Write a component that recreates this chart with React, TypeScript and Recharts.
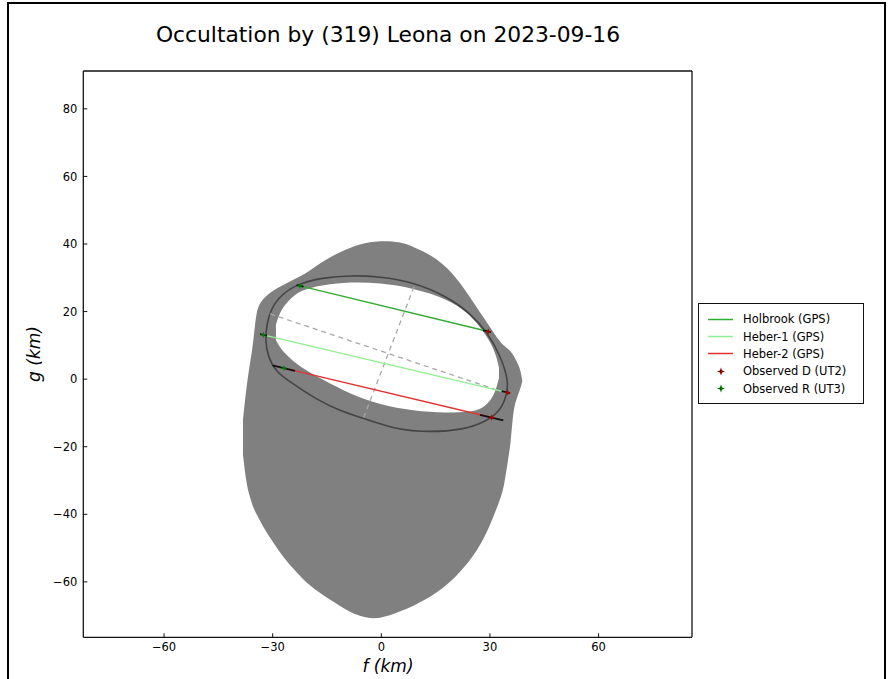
import React from "react";
import { ComposedChart, Area, Line, Scatter, XAxis, YAxis } from "recharts";

const xTicks = [-60, -30, 0, 30, 60];
const yTicks = [-60, -40, -20, 0, 20, 40, 60, 80];
const xDomain = [-82.3, 85.8];
const yDomain = [-76.4, 91.2];

// shape model shadow: upper and lower edge at each f
const blobF = [-38.2, -37.4, -36.5, -35.4, -34.6, -33.5, -30.7, -27.1, -23.3, -20.5, -16.9, -11.4, -5.9, -0.4, 5.2, 8.8, 15.4, 20.9, 25.3, 29.2, 32.8, 33.9, 35.3, 35.8, 36.4, 37.2, 38.3, 38.9];
const blobTop = [-12.0, -3.8, 3.3, 10.2, 19.6, 22.9, 25.8, 27.9, 30.0, 31.5, 34.4, 37.7, 40.1, 41.0, 40.7, 39.2, 35.9, 30.0, 22.9, 16.7, 11.0, 9.9, 8.7, 8.1, 7.2, 5.7, 3.3, -0.2];
const blobBottom = [-22.4, -29.9, -34.3, -37.9, -39.7, -42.0, -47.1, -52.7, -57.3, -60.4, -63.4, -67.2, -70.5, -71.1, -68.7, -67.2, -63.4, -58.2, -52.7, -45.6, -35.7, -31.9, -21.8, -18.0, -9.7, -6.1, -3.2, -0.8];

// white inner region
const innerF = [-29.1, -28.0, -26.0, -22.5, -16.1, -8.6, -0.4, 8.8, 18.1, 23.7, 27.3, 30.0, 31.7, 32.5];
const innerTop = [16.1, 19.9, 22.9, 26.4, 27.9, 28.8, 28.5, 27.0, 23.8, 19.9, 15.5, 11.3, 7.2, 3.3];
const innerBottom = [11.6, 9.3, 6.9, 3.6, -0.2, -4.4, -7.6, -9.4, -10.0, -9.7, -9.1, -6.7, -3.2, 0.4];

// fitted ellipse outline
const limbF = [-0.4, 8.8, 18.1, 24.5, 29.2, 32.8, 35.3, 34.4, 32.8, 28.9, 22.6, 13.4, 4.3, -5.1, -11.4, -17.8, -25.2, -29.1, -31.3, -32.1, -31.6, -29.9, -24.4, -16.1, -8.6];
const limbG = [30.4, 28.7, 24.5, 19.6, 14.0, 7.2, -0.8, -5.5, -9.4, -12.6, -15.0, -15.7, -15.0, -11.5, -9.4, -6.1, -0.8, 2.2, 6.6, 11.6, 16.7, 22.6, 27.9, 30.1, 30.7];

// ellipse axes
const majorF = [-30.7, 32.8];
const majorG = [19.3, -3.5];
const minorF = [9.0, -5.1];
const minorG = [27.3, -12.0];

// chords: [R, D]
const holbrookF = [-22.45, 29.54];
const holbrookG = [27.61, 14.09];
const heber1F = [-32.58, 34.9];
const heber1G = [13.11, -3.97];
const heber2F = [-26.86, 30.48];
const heber2G = [3.26, -11.36];

// timing error bars: [start f, start g, end f, end g]
const errBars = [
  [-23.41, 27.86, -21.48, 27.36],
  [28.08, 14.47, 30.29, 13.9],
  [-33.49, 13.34, -31.55, 12.85],
  [33.24, -3.55, 35.53, -4.13],
  [-30.04, 4.06, -23.83, 2.48],
  [27.25, -10.54, 33.68, -12.18],
];

const pts = (f: number[], g: number[]) => f.map((v, i) => ({ f: v, g: g[i] }));
const band = (f: number[], lo: number[], hi: number[]) =>
  f.map((v, i) => ({ f: v, range: [lo[i], hi[i]] }));

const blobData = band(blobF, blobBottom, blobTop);
const innerData = band(innerF, innerBottom, innerTop);
const limbData = pts(limbF, limbG);
const chords = [
  { name: "Holbrook (GPS)", color: "#33aa33", data: pts(holbrookF, holbrookG) },
  { name: "Heber-1 (GPS)", color: "#90ee90", data: pts(heber1F, heber1G) },
  { name: "Heber-2 (GPS)", color: "#e03232", data: pts(heber2F, heber2G) },
];
const dPoints = [
  { f: holbrookF[1], g: holbrookG[1] },
  { f: heber1F[1], g: heber1G[1] },
  { f: heber2F[1], g: heber2G[1] },
];
const rPoints = [
  { f: holbrookF[0], g: holbrookG[0] },
  { f: heber1F[0], g: heber1G[0] },
  { f: heber2F[0], g: heber2G[0] },
];

const FONT = "'DejaVu Sans', sans-serif";
const fmt = (v: number) => String(v).replace("-", "\u2212");

const star = (cx: number, cy: number, r: number) => {
  const s = r * 0.28;
  return `M${cx},${cy - r}L${cx + s},${cy - s}L${cx + r},${cy}L${cx + s},${cy + s}L${cx},${cy + r}L${cx - s},${cy + s}L${cx - r},${cy}L${cx - s},${cy - s}Z`;
};

const starShape = (color: string) => (props: any) =>
  <path d={star(props.cx, props.cy, 3.2)} fill={color} />;

const legendItems = [
  ...chords.map((c) => ({ name: c.name, color: c.color, kind: "line" })),
  { name: "Observed D (UT2)", color: "#8b0000", kind: "star" },
  { name: "Observed R (UT3)", color: "#007000", kind: "star" },
];

function LegendBox() {
  return (
    <div
      style={{
        position: "absolute",
        left: 698,
        top: 303,
        width: 166,
        height: 101,
        boxSizing: "border-box",
        border: "1.3px solid #111",
        background: "#fff",
        fontFamily: FONT,
        fontSize: 11.5,
        color: "#000",
      }}
    >
      {legendItems.map((it, i) => (
        <div
          key={it.name}
          style={{ position: "absolute", left: 0, top: 6.5 + i * 17.4, height: 17.4, display: "flex", alignItems: "center" }}
        >
          <svg width={44} height={17} style={{ marginLeft: 8 }}>
            {it.kind === "line" ? (
              <line x1={1} x2={26} y1={8.5} y2={8.5} stroke={it.color} strokeWidth={1.5} />
            ) : (
              <path d={star(14, 8.5, 4)} fill={it.color} />
            )}
          </svg>
          <span style={{ marginLeft: -8, whiteSpace: "nowrap" }}>{it.name}</span>
        </div>
      ))}
    </div>
  );
}

const axisLine = { stroke: "#111", strokeWidth: 1.3 };
const tickLine = { stroke: "#111", strokeWidth: 1 };
const tickStyle = { fill: "#000", fontSize: 11.5, fontFamily: FONT };

export default function App() {
  return (
    <div style={{ position: "relative", width: 893, height: 679 }}>
      <style>{`html,body{margin:0;overflow:hidden;background:#fff}`}</style>
      <div
        style={{
          position: "absolute",
          left: 7,
          top: 2,
          width: 879,
          height: 700,
          boxSizing: "border-box",
          border: "2px solid #000",
        }}
      />
      <div
        style={{
          position: "absolute",
          left: 88,
          width: 600,
          top: 23,
          textAlign: "center",
          fontFamily: FONT,
          fontSize: 21.8,
          lineHeight: "24px",
          color: "#000",
        }}
      >
        Occultation by (319) Leona on 2023-09-16
      </div>
      <div
        style={{
          position: "absolute",
          left: 288,
          width: 200,
          top: 656,
          textAlign: "center",
          fontFamily: FONT,
          fontSize: 17,
          fontStyle: "italic",
          lineHeight: "20px",
        }}
      >
        f (km)
      </div>
      <div
        style={{
          position: "absolute",
          left: -66,
          width: 200,
          top: 344,
          textAlign: "center",
          fontFamily: FONT,
          fontSize: 17,
          fontStyle: "italic",
          lineHeight: "20px",
          transform: "rotate(-90deg)",
        }}
      >
        g (km)
      </div>
      <div style={{ position: "absolute", left: 0, top: 0 }}>
        <ComposedChart
          width={893}
          height={679}
          margin={{ top: 51, right: 181, bottom: 11.7, left: 23.3 }}
          style={{ fontFamily: FONT }}
        >
          <XAxis
            dataKey="f"
            type="number"
            domain={xDomain}
            ticks={xTicks}
            allowDataOverflow
            height={30}
            tickSize={-4}
            tickMargin={10}
            axisLine={axisLine}
            tickLine={tickLine}
            tick={tickStyle}
            tickFormatter={fmt}
          />
          <XAxis
            xAxisId="top"
            orientation="top"
            type="number"
            domain={xDomain}
            ticks={xTicks}
            allowDataOverflow
            height={20}
            tickSize={-4}
            axisLine={axisLine}
            tickLine={tickLine}
            tick={false}
          />
          <YAxis
            type="number"
            domain={yDomain}
            ticks={yTicks}
            allowDataOverflow
            width={60}
            tickSize={-4}
            tickMargin={10}
            axisLine={axisLine}
            tickLine={tickLine}
            tick={tickStyle}
            tickFormatter={fmt}
          />
          <YAxis
            yAxisId="right"
            orientation="right"
            type="number"
            domain={yDomain}
            ticks={yTicks}
            allowDataOverflow
            width={20}
            tickSize={-4}
            axisLine={axisLine}
            tickLine={tickLine}
            tick={false}
          />
          <Area
            data={blobData}
            dataKey="range"
            type="basis"
            stroke="none"
            fill="#808080"
            fillOpacity={1}
            dot={false}
            activeDot={false}
            isAnimationActive={false}
          />
          <Area
            data={innerData}
            dataKey="range"
            type="basis"
            stroke="none"
            fill="#ffffff"
            fillOpacity={1}
            dot={false}
            activeDot={false}
            isAnimationActive={false}
          />
          <Line
            data={limbData}
            dataKey="g"
            type="basisClosed"
            stroke="#3a3a3a"
            strokeOpacity={0.85}
            strokeWidth={1.6}
            dot={false}
            activeDot={false}
            isAnimationActive={false}
          />
          <Line
            data={pts(majorF, majorG)}
            dataKey="g"
            type="linear"
            stroke="#a8a8a8"
            strokeWidth={1.3}
            strokeDasharray="5 4"
            dot={false}
            activeDot={false}
            isAnimationActive={false}
          />
          <Line
            data={pts(minorF, minorG)}
            dataKey="g"
            type="linear"
            stroke="#a8a8a8"
            strokeWidth={1.3}
            strokeDasharray="5 4"
            dot={false}
            activeDot={false}
            isAnimationActive={false}
          />
          {chords.map((c) => (
            <Line
              key={c.name}
              data={c.data}
              dataKey="g"
              type="linear"
              stroke={c.color}
              strokeWidth={1.4}
              dot={false}
              activeDot={false}
              isAnimationActive={false}
            />
          ))}
          {errBars.map((e, i) => (
            <Line
              key={"err" + i}
              data={[
                { f: e[0], g: e[1] },
                { f: e[2], g: e[3] },
              ]}
              dataKey="g"
              type="linear"
              stroke="#111"
              strokeWidth={1.8}
              dot={false}
              activeDot={false}
              isAnimationActive={false}
            />
          ))}
          <Scatter data={dPoints} dataKey="g" shape={starShape("#b00000")} isAnimationActive={false} />
          <Scatter data={rPoints} dataKey="g" shape={starShape("#008000")} isAnimationActive={false} />
        </ComposedChart>
      </div>
      <LegendBox />
    </div>
  );
}
